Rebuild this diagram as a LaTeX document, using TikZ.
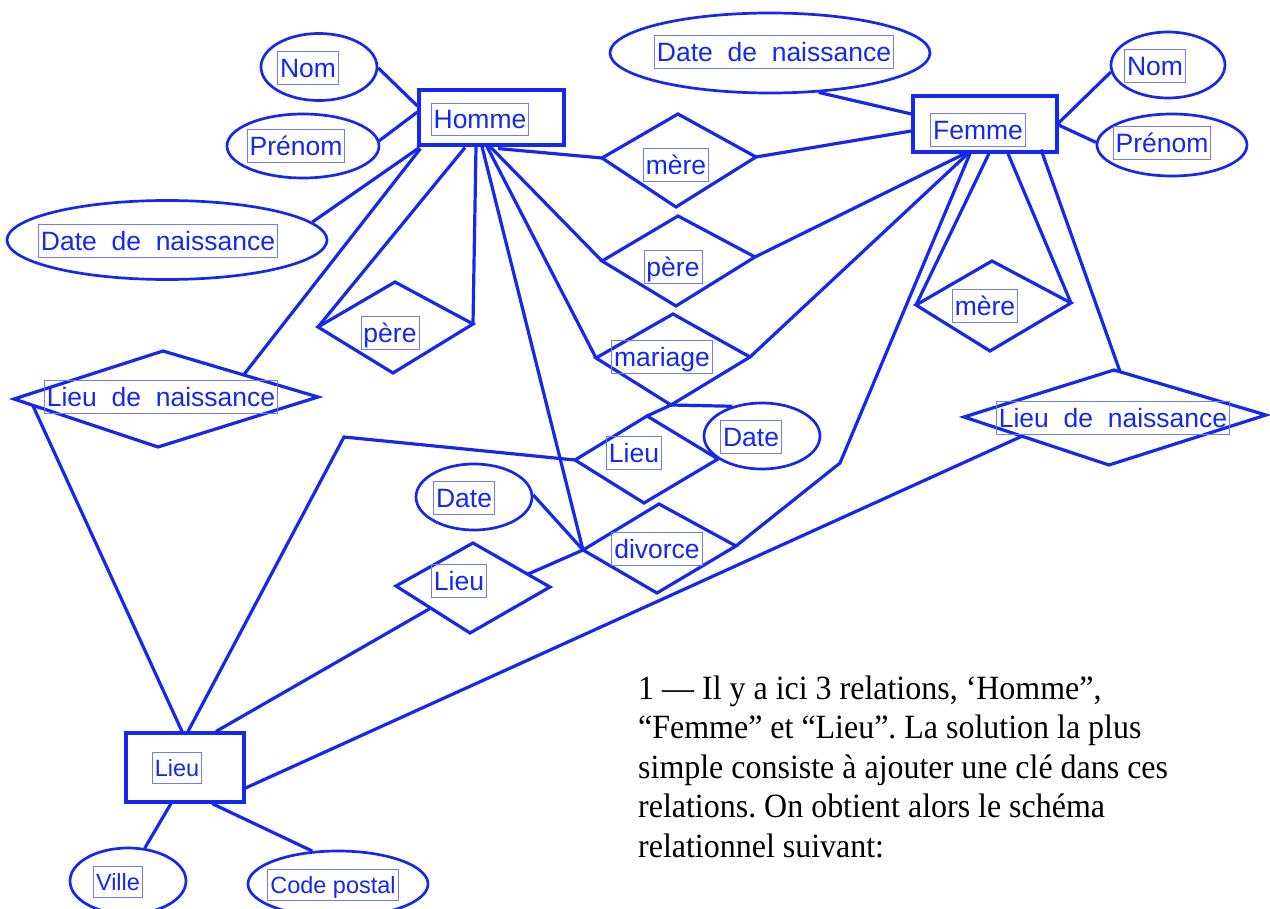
\documentclass[tikz,border=0pt]{standalone}
\usepackage{fontspec}
\setmainfont{Liberation Serif}
\setsansfont{Liberation Sans}
\usetikzlibrary{shapes.geometric,calc}
\definecolor{erblue}{RGB}{20,40,238}
\definecolor{lblbox}{RGB}{110,125,240}
\frenchspacing
\begin{document}
\begin{tikzpicture}[x=1pt,y=-1pt,
  edge/.style={draw=erblue, line width=3.2pt},
  ent/.style={draw=erblue, line width=3.1pt, rectangle, inner sep=0pt},
  attr/.style={draw=erblue, line width=2.7pt, ellipse, inner sep=0pt},
  rel/.style={draw=erblue, line width=3.2pt, line join=miter},
  lbl/.style={draw=lblbox, line width=0.9pt, text=erblue, inner xsep=2.5pt, inner ysep=2pt,
    font=\sffamily\fontsize{26.5}{30}\selectfont, text height=23.5pt, text depth=5pt},
  slbl/.style={lbl, font=\sffamily\fontsize{23.5}{28}\selectfont, text height=22pt, text depth=5pt}
]
\fill[white] (0,0) rectangle (1270,909);
\useasboundingbox (0,0) rectangle (1270,909);

% ---------- entities
\node[ent, minimum width=145pt, minimum height=55pt] (homme) at (491.5,117.5) {};
\node[ent, minimum width=144pt, minimum height=56pt] (femme) at (985,124) {};
\node[ent, minimum width=118pt, minimum height=69pt] (lieu) at (185,767.5) {};

% ---------- attributes
\node[attr, minimum width=116pt, minimum height=67pt] (nomH) at (319,67) {};
\node[attr, minimum width=152pt, minimum height=64pt] (prenomH) at (303,146) {};
\node[attr, minimum width=320pt, minimum height=79pt] (ddnH) at (167,240) {};
\node[attr, minimum width=320pt, minimum height=80pt] (ddnF) at (770,53) {};
\node[attr, minimum width=114pt, minimum height=66pt] (nomF) at (1168,65) {};
\node[attr, minimum width=150pt, minimum height=62pt] (prenomF) at (1172,145) {};
\node[attr, minimum width=116pt, minimum height=66pt] (dateM) at (762,436) {};
\node[attr, minimum width=116pt, minimum height=66pt] (dateD) at (474,497) {};
\node[attr, minimum width=116pt, minimum height=66pt] (ville) at (128,881) {};
\node[attr, minimum width=180pt, minimum height=66pt] (code) at (338,884) {};

% ---------- relationship diamonds (left, top, right, bottom)
\coordinate (mL) at (602,158); \coordinate (mT) at (678,114); \coordinate (mR) at (756,157); \coordinate (mB) at (676,207);
\coordinate (pL) at (602,261); \coordinate (pT) at (678,216); \coordinate (pR) at (755,257); \coordinate (pB) at (676,306);
\coordinate (maL) at (596,358); \coordinate (maT) at (673,314); \coordinate (maR) at (750,357); \coordinate (maB) at (671,405);
\coordinate (lmL) at (575,460); \coordinate (lmT) at (647,416); \coordinate (lmR) at (718,459); \coordinate (lmB) at (644,503);
\coordinate (dL) at (583,550); \coordinate (dT) at (659,504); \coordinate (dR) at (736,546); \coordinate (dB) at (657,593);
\coordinate (ldL) at (396,586); \coordinate (ldT) at (473,543); \coordinate (ldR) at (550,587); \coordinate (ldB) at (470,633);
\coordinate (phL) at (318,327); \coordinate (phT) at (395,282); \coordinate (phR) at (473,324); \coordinate (phB) at (393,373);
\coordinate (mfL) at (916,305); \coordinate (mfT) at (992,261); \coordinate (mfR) at (1071,303); \coordinate (mfB) at (990,351);
\coordinate (lhL) at (14,399); \coordinate (lhT) at (163,351); \coordinate (lhR) at (318,397); \coordinate (lhB) at (158,447);
\coordinate (lfL) at (964,417); \coordinate (lfT) at (1114,370); \coordinate (lfR) at (1266,415); \coordinate (lfB) at (1109,465);

\foreach \d in {m,p,ma,lm,d,ld,ph,mf,lh,lf}
  \draw[rel] (\d L) -- (\d T) -- (\d R) -- (\d B) -- cycle;

% bend points
\coordinate (bendL) at (344,437);
\coordinate (bendD) at (840,463);

% ---------- connectors
\draw[edge] (nomH.-1) -- ($(homme.west)+(0,-11.5)$);
\draw[edge] (prenomH.4) -- ($(homme.west)+(0,-5.5)$);
\draw[edge] (ddnH.7.6) -- ($(homme.south west)+(2,1)$);
\draw[edge] ($(lhT)!0.52!(lhR)$) -- ($(homme.south west)+(3,2)$);
\draw[edge] (phL) -- ($(homme.south)+(-26.5,1)$);
\draw[edge] (phR) -- ($(homme.south)+(-15.5,0)$);
\draw[edge] (dL) -- ($(homme.south)+(-9.5,0)$);
\draw[edge] (maL) -- ($(homme.south)+(-4.5,0)$);
\draw[edge] (pL) -- ($(homme.south)+(-1.5,0)$);
\draw[edge] (mL) -- ($(homme.south)+(6.5,2)$);

\draw[edge] (mR) -- ($(femme.west)+(0,7)$);
\draw[edge] (pR) -- ($(femme.south)+(-20,0)$);
\draw[edge] (maR) -- ($(femme.south)+(-17,0)$);
\draw[edge] (dR) -- (bendD) -- ($(femme.south)+(-15,0)$);
\draw[edge] (mfL) -- ($(femme.south)+(4,0)$);
\draw[edge] (mfR) -- ($(femme.south)+(23,0)$);
\draw[edge] ($(lfT)!0.04!(lfR)$) -- ($(femme.south)+(56,-4)$);
\draw[edge] (ddnF.-39) -- ($(femme.west)+(0,-10)$);
\draw[edge] ($(femme.east)+(0,-1)$) -- (nomF.187);
\draw[edge] ($(femme.east)+(0,1)$) -- (prenomF.178);

\draw[edge] (maB) -- (dateM.135);
\draw[edge] (maB) -- (lmT);
\draw[edge] (lmL) -- (bendL) -- ($(lieu.north)+(3,0)$);
\draw[edge] ($(lhL)!0.13!(lhB)$) -- ($(lieu.north)+(-3,0)$);
\draw[edge] ($(ldL)!0.47!(ldB)$) -- ($(lieu.north)+(31,0)$);
\draw[edge] ($(lfL)!0.4!(lfB)$) -- ($(lieu.east)+(0,20.5)$);
\draw[edge] ($(lieu.south)+(-14,0)$) -- (ville.63);
\draw[edge] ($(lieu.south)+(27,0)$) -- (code.128);
\draw[edge] (dateD.2) -- (dL);
\draw[edge] ($(ldT)!0.71!(ldR)$) -- (dL);

% ---------- labels
\node[lbl] (t-nomH) at (308,68) {Nom};
\node[lbl] (t-prenomH) at (296,146) {Prénom};
\node[lbl] (t-homme) at (480,119.5) {Homme};
\node[lbl] (t-ddnH) at (158,241) {Date\ \ de\ \ naissance};
\node[lbl] (t-pereH) at (390,333) {père};
\node[lbl] (t-ldnH) at (161,397) {Lieu\ \ de\ \ naissance};
\node[lbl] (t-femme) at (978,130) {Femme};
\node[lbl] (t-ddnF) at (774,52) {Date\ \ de\ \ naissance};
\node[lbl] (t-nomF) at (1155,66) {Nom};
\node[lbl] (t-prenomF) at (1162,143) {Prénom};
\node[lbl] (t-mereF) at (985,306) {mère};
\node[lbl] (t-ldnF) at (1113,418) {Lieu\ \ de\ \ naissance};
\node[lbl] (t-mere) at (676,165) {mère};
\node[lbl] (t-pere) at (673,267) {père};
\node[lbl] (t-mariage) at (662,357) {mariage};
\node[lbl] (t-lieuM) at (634,453) {Lieu};
\node[lbl] (t-dateM) at (751,437) {Date};
\node[lbl] (t-dateD) at (464,498) {Date};
\node[lbl] (t-divorce) at (657,549) {divorce};
\node[lbl] (t-lieuD) at (459,581) {Lieu};
\node[slbl] (t-lieu) at (177,767.5) {Lieu};
\node[slbl] (t-ville) at (118,882) {Ville};
\node[slbl] (t-code) at (333,885) {Code postal};

% ---------- paragraph (base = baseline of its last line)
\node[anchor=base west, align=left, inner sep=0pt, xscale=0.94,
  font=\rmfamily\fontsize{34}{39.5}\selectfont] (para) at (638,857)
  {1 — Il y a ici 3 relations, ‘Homme”,\\
   “Femme” et “Lieu”. La solution la plus\\
   simple consiste à ajouter une clé dans ces\\
   relations. On obtient alors le schéma\\
   relationnel suivant:};
\end{tikzpicture}
\end{document}
